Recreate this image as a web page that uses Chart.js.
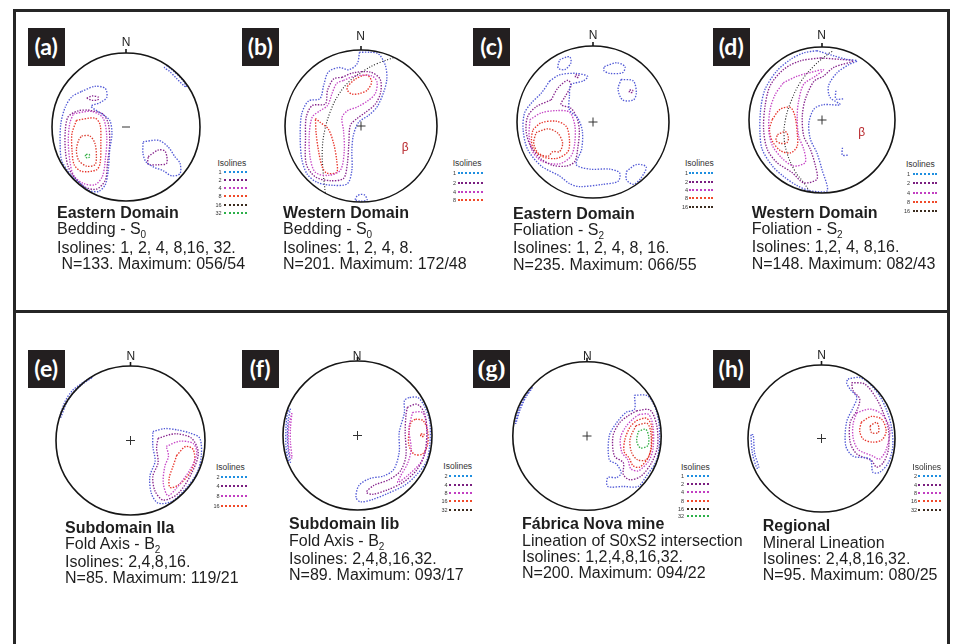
<!DOCTYPE html>
<html lang="en">
<head>
<meta charset="UTF-8">
<title>Stereonets</title>
<script src="https://cdn.jsdelivr.net/npm/chart.js"></script>
<style>
  html, body { margin: 0; padding: 0; background: #fff; }
  body { width: 957px; height: 644px; position: relative; overflow: hidden; font-family: "Liberation Sans", Arial, sans-serif; color: #222; }
  .rule { position: absolute; background: #262626; }
  .tag { position: absolute; width: 37px; height: 38px; background: #231f20; color: #fff; font: bold 23px Lato, "Open Sans", sans-serif; text-align: center; line-height: 37px; }
  .north { position: absolute; width: 20px; text-align: center; font-size: 12px; line-height: 14px; }
  .desc { position: absolute; font-size: 16px; line-height: 16.5px; white-space: pre; color: #1e1e1e; }
  .desc b { font-weight: bold; }
  .desc sub { font-size: 10px; vertical-align: baseline; position: relative; top: 4px; }
  .lgT { position: absolute; font-size: 8.5px; line-height: 10px; color: #333; }
  .lgN { position: absolute; width: 12px; text-align: right; font-size: 5.5px; line-height: 6px; color: #333; }
  .lgL { position: absolute; height: 0; border-top: 2px dotted; }
  .beta { position: absolute; font-size: 12px; color: #b8282d; }
</style>
</head>
<body>
<script>
// contour levels shown in each panel (legend)
const levelsA = [1, 2, 4, 8, 16, 32];
const levelsB = [1, 2, 4, 8];
const levelsC = [1, 2, 4, 8, 16];
const levelsD = [1, 2, 4, 8, 16];
const levelsE = [2, 4, 8, 16];
const levelsF = [2, 4, 8, 16, 32];
const levelsG = [1, 2, 4, 8, 16, 32];
const levelsH = [2, 4, 8, 16, 32];

// panel captions
const textA = ['Eastern Domain', 'Bedding - S', '0', 'Isolines: 1, 2, 4, 8,16, 32.', ' N=133. Maximum: 056/54'];
const textB = ['Western Domain', 'Bedding - S', '0', 'Isolines: 1, 2, 4, 8.', 'N=201. Maximum: 172/48'];
const textC = ['Eastern Domain', 'Foliation - S', '2', 'Isolines: 1, 2, 4, 8, 16.', 'N=235. Maximum: 066/55'];
const textD = ['Western Domain', 'Foliation - S', '2', 'Isolines: 1,2, 4, 8,16.', 'N=148. Maximum: 082/43'];
const textE = ['Subdomain IIa', 'Fold Axis - B', '2', 'Isolines: 2,4,8,16.', 'N=85. Maximum: 119/21'];
const textF = ['Subdomain Iib', 'Fold Axis - B', '2', 'Isolines: 2,4,8,16,32.', 'N=89. Maximum: 093/17'];
const textG = ['Fábrica Nova mine', 'Lineation of S0xS2 intersection', '', 'Isolines: 1,2,4,8,16,32.', 'N=200. Maximum: 094/22'];
const textH = ['Regional', 'Mineral Lineation', '', 'Isolines: 2,4,8,16,32.', 'N=95. Maximum: 080/25'];

// contour outlines, net coordinates (primitive circle radius = 100, north up)
// (a)
const aL1 = [[-60,48],[-42,55],[-28,52],[-26,40],[-35,33],[-47,28],[-33,18],[-22,9],[-19,-9],[-22,-31],[-24,-58],[-28,-78],[-37,-87],[-49,-86],[-62,-76],[-76,-63],[-87,-45],[-89,-22],[-88,5],[-82,27],[-73,41]];
const aR1 = [[23,-20],[44,-18],[57,-27],[66,-40],[73,-49],[73,-63],[62,-66],[50,-59],[37,-54],[27,-47],[23,-36]];
const aNE1 = [[55,83],[66,74],[76,64],[82,54],[78,56],[68,66],[58,76],[52,80]];
const aL2 = [[-51,23],[-32,18],[-24,5],[-22,-22],[-25,-49],[-28,-72],[-40,-84],[-56,-81],[-68,-70],[-78,-54],[-82,-31],[-82,-4],[-78,14],[-64,22]];
const aT2 = [[-53,39],[-45,42],[-37,40],[-38,37],[-46,36]];
const aR2 = [[30,-40],[44,-31],[53,-33],[55,-49],[44,-51],[30,-50]];
const aL4 = [[-71,18],[-46,21],[-31,12],[-26,-13],[-28,-45],[-32,-67],[-42,-78],[-58,-76],[-71,-65],[-76,-45],[-78,-18],[-76,5]];
const aL8 = [[-67,9],[-42,12],[-35,3],[-34,-22],[-35,-49],[-40,-58],[-60,-60],[-70,-51],[-73,-31],[-73,-9]];
const aL16 = [[-60,-12],[-49,-12],[-42,-22],[-40,-40],[-42,-51],[-53,-53],[-64,-45],[-67,-31],[-64,-18]];
const aL32 = [[-54,-37],[-50,-37],[-49,-40],[-52,-42],[-55,-40]];
// (b)
const bL1 = [[-2,97],[-5,82],[-16,74],[-29,77],[-43,71],[-49,54],[-54,36],[-69,33],[-78,16],[-80,-14],[-78,-43],[-71,-63],[-58,-74],[-38,-78],[-18,-76],[-12,-58],[-12,-32],[-10,-12],[-3,5],[10,14],[21,25],[30,45],[34,62],[32,80],[23,95],[12,97]];
const bS1 = [[-8,-97],[-5,-92],[0,-90],[5,-91],[8,-97],[0,-99]];
const bL2 = [[-25,64],[-10,70],[12,71],[25,62],[26,45],[19,29],[6,18],[-5,10],[-14,1],[-16,-23],[-18,-50],[-23,-69],[-40,-72],[-60,-67],[-72,-50],[-73,-14],[-72,12],[-64,27],[-47,29],[-44,47],[-36,62]];
const bL4 = [[-23,60],[-7,66],[14,66],[21,58],[19,43],[10,34],[-5,25],[-18,20],[-25,11],[-23,-6],[-22,-32],[-27,-58],[-43,-65],[-60,-61],[-67,-41],[-68,-10],[-64,12],[-54,20],[-44,27],[-38,43],[-32,56]];
const bU8 = [[-18,52],[-7,62],[8,67],[14,58],[8,47],[-1,43],[-12,42],[-18,47]];
const bD8 = [[-60,10],[-54,5],[-43,-4],[-36,-23],[-32,-45],[-32,-61],[-45,-62],[-51,-54],[-56,-32],[-59,-10]];
const bGC = [[-47,-88],[-50,-58],[-51,-32],[-48,-7],[-40,20],[-29,42],[-14,60],[4,73],[21,82],[43,90]];
// (c)
const cM1 = [[-57,54],[-44,62],[-22,64],[-7,60],[-13,54],[-29,49],[-31,34],[-31,16],[-20,5],[-14,-12],[-15,-36],[-22,-56],[-4,-62],[22,-62],[35,-67],[33,-78],[13,-82],[-18,-85],[-31,-81],[-44,-71],[-68,-58],[-86,-36],[-92,-10],[-90,12],[-81,25],[-68,38]];
const cA1 = [[-44,82],[-31,86],[-29,78],[-37,69],[-46,71]];
const cB1 = [[15,73],[31,78],[42,73],[39,65],[22,64],[14,68]];
const cC1 = [[37,56],[53,54],[57,38],[53,29],[39,29],[33,43]];
const cD1 = [[44,-65],[57,-56],[70,-59],[63,-74],[53,-82],[44,-76]];
const cM2 = [[-55,29],[-46,45],[-33,55],[-29,48],[-37,33],[-42,23],[-29,18],[-21,5],[-18,-12],[-20,-34],[-24,-52],[-35,-58],[-53,-57],[-69,-48],[-82,-32],[-88,-12],[-86,7],[-75,20]];
const cP2a = [[-23,62],[-19,62],[-19,59],[-23,59]];
const cP2b = [[48,42],[52,42],[52,39],[48,39]];
const cM4 = [[-83,3],[-68,12],[-48,15],[-31,13],[-24,-4],[-24,-28],[-29,-45],[-44,-55],[-66,-52],[-79,-40],[-84,-19]];
const cM8 = [[-79,-10],[-68,-1],[-48,1],[-35,-6],[-31,-23],[-33,-39],[-48,-48],[-68,-45],[-79,-34],[-81,-21]];
const cM16 = [[-75,-14],[-59,-9],[-46,-15],[-40,-28],[-44,-39],[-53,-39],[-59,-45],[-72,-41],[-78,-28]];
// (d)
const dM1 = [[-7,95],[16,88],[34,83],[48,81],[37,76],[21,65],[9,47],[11,31],[25,21],[2,21],[-11,15],[-18,-4],[-16,-26],[-7,-45],[0,-68],[7,-97],[-16,-97],[-34,-90],[-53,-77],[-68,-63],[-82,-40],[-85,-17],[-84,15],[-78,42],[-62,67],[-43,83],[-25,92]];
const dS1a = [[19,40],[19,29],[30,29]];
const dS1b = [[28,-38],[28,-48],[37,-48]];
const dM2 = [[-2,85],[25,83],[43,81],[16,72],[2,60],[-11,53],[-23,28],[-27,5],[-25,-22],[-16,-40],[-9,-63],[-7,-81],[-25,-86],[-41,-72],[-62,-58],[-75,-40],[-80,-13],[-78,19],[-71,47],[-53,69],[-30,81]];
const dM4 = [[-53,51],[-34,60],[-16,65],[2,69],[-9,60],[-25,49],[-32,26],[-34,5],[-32,-22],[-25,-40],[-23,-58],[-39,-63],[-55,-52],[-68,-35],[-73,-13],[-71,15],[-64,35]];
const dM8 = [[-68,1],[-57,15],[-43,17],[-37,5],[-34,-17],[-34,-36],[-43,-45],[-57,-42],[-68,-29],[-72,-13]];
const dM16 = [[-61,-20],[-50,-16],[-46,-24],[-48,-31],[-57,-32],[-63,-28]];
const dGC = [[14,94],[9,91],[-11,74],[-30,51],[-43,24],[-50,1],[-52,-22],[-48,-45],[-37,-70],[-25,-86],[-16,-99]];
// (e)
const eR2 = [[30,12],[46,16],[64,14],[80,10],[93,3],[95,-21],[89,-44],[73,-66],[55,-82],[37,-84],[28,-71],[26,-48],[33,-28],[30,-8]];
const eNW2 = [[-52,84],[-64,76],[-76,65],[-86,50],[-94,30],[-95,31],[-88,52],[-78,67],[-65,77],[-52,85]];
const eR4 = [[37,3],[60,9],[82,3],[91,-17],[82,-44],[64,-71],[44,-80],[33,-68],[30,-48],[37,-30],[35,-10]];
const eR8 = [[48,-8],[66,-1],[84,-4],[89,-17],[80,-39],[60,-66],[50,-74],[44,-57],[46,-35],[51,-21]];
const eR16 = [[62,-20],[74,-8],[84,-12],[86,-28],[78,-46],[64,-60],[53,-63],[52,-50],[57,-35]];
// (f)
const fR2 = [[69,51],[63,47],[63,31],[56,4],[56,-22],[49,-45],[36,-54],[16,-58],[2,-67],[-2,-83],[4,-89],[20,-86],[40,-78],[63,-67],[78,-54],[92,-36],[97,-13],[97,18],[90,39],[81,51]];
const fW2 = [[-90,36],[-93,20],[-94,0],[-93,-20],[-90,-36],[-93,-32],[-96,-15],[-96,10],[-94,30]];
const fR4 = [[67,38],[80,42],[90,30],[93,4],[90,-25],[79,-47],[61,-63],[40,-73],[20,-79],[12,-76],[22,-67],[43,-59],[58,-47],[65,-27],[64,4],[65,27]];
const fW4 = [[-88,30],[-90,10],[-90,-10],[-88,-30],[-91,-25],[-93,-5],[-92,15]];
const fR8 = [[74,31],[87,31],[93,13],[92,-18],[85,-36],[67,-54],[54,-63],[58,-54],[67,-38],[72,-18],[69,9]];
const fR16 = [[78,22],[88,20],[94,7],[94,-13],[87,-25],[76,-25],[69,-13],[69,4],[72,18]];
const fO16 = [[85,2],[89,2],[89,-1],[85,-1]];
// (g)
const gR1 = [[64,55],[82,54],[94,32],[98,0],[94,-32],[80,-54],[69,-68],[49,-68],[28,-68],[28,-56],[40,-56],[46,-50],[40,-38],[30,-32],[30,0],[40,18],[53,32],[64,36]];
const gW1 = [[-75,65],[-84,52],[-92,35],[-97,18],[-96,17],[-90,36],[-82,53],[-73,66]];
const gR2 = [[67,34],[85,35],[94,14],[95,-14],[87,-36],[73,-54],[58,-59],[49,-52],[49,-36],[37,-27],[35,0],[44,18],[55,27]];
const gR4 = [[70,29],[83,29],[89,13],[89,-17],[83,-34],[69,-47],[59,-44],[55,-32],[47,-22],[45,-3],[52,12],[62,23]];
const gR8 = [[67,21],[80,24],[87,14],[87,-14],[82,-30],[71,-42],[62,-40],[57,-30],[50,-21],[51,-5],[58,12]];
const gR16 = [[66,14],[81,17],[86,5],[86,-18],[80,-32],[68,-32],[60,-22],[58,-4]];
const gR32 = [[69,6],[79,9],[83,0],[82,-13],[72,-16],[67,-7]];
// (h)
const hR2 = [[36,81],[52,83],[66,74],[79,58],[88,40],[95,17],[97,-10],[91,-33],[79,-46],[70,-46],[66,-28],[43,-24],[33,-10],[34,22],[43,42],[48,56],[39,67],[34,76]];
const hW2 = [[-96,5],[-94,-20],[-88,-40],[-85,-40],[-91,-20],[-93,5]];
const hR4 = [[41,76],[59,74],[75,54],[84,35],[91,13],[91,-15],[84,-33],[75,-39],[68,-30],[48,-21],[39,-5],[39,22],[48,38],[52,54],[43,65]];
const hR8 = [[48,35],[66,40],[82,33],[93,13],[88,-15],[79,-28],[70,-24],[50,-15],[43,1],[43,20]];
const hR16 = [[54,22],[68,30],[82,26],[88,10],[82,-2],[70,-5],[57,-1],[52,10]];
const hR32 = [[66,17],[75,22],[78,15],[77,8],[68,8]];

// beta poles (net coordinates)
const betaB = [59, -30];
const betaD = [55, -17];

// colours by contour rank (plot) and legend swatches
const lineColors = ['#5159d6', '#86238c', '#c646c6', '#e8342a', '#dc3a2c', '#34b046'];
const legendColors = ['#1f8fe0', '#7a1f80', '#c23fc2', '#f04a2a', '#3b2b1e', '#2cb04a'];

// page layout for each panel
const panels = [
  { tag: '(a)', cx: 126, cy: 127, r: 74, ny: 41.7, box: [27.7, 28.3], center: 'line',
    levels: levelsA, text: textA, tx: 57, ty: 213, lh: 16.5,
    lg: { x: 217.5, y: 163, rows: [171.7, 179.6, 188, 196.3, 204.7, 212.7], nx: 221.5, l1: 224, l2: 247 },
    rings: [[aL1,0],[aR1,0],[aNE1,0],[aL2,1],[aT2,1],[aR2,1],[aL4,2],[aL8,3],[aL16,4],[aL32,5]] },
  { tag: '(b)', cx: 360.5, cy: 125.5, r: 76, ny: 36, box: [241.7, 28], center: 'cross',
    levels: levelsB, text: textB, tx: 283, ty: 213, lh: 16.5,
    lg: { x: 452.7, y: 163, rows: [173.3, 182.5, 191.5, 200], nx: 456, l1: 457.5, l2: 483 },
    rings: [[bL1,0],[bS1,0],[bL2,1],[bL4,2],[bU8,3],[bD8,3]], gc: bGC, beta: betaB },
  { tag: '(c)', cx: 593, cy: 121.7, r: 76, ny: 35, box: [473, 28], center: 'cross',
    levels: levelsC, text: textC, tx: 513, ty: 214, lh: 16.3,
    lg: { x: 685, y: 163, rows: [173.3, 181.7, 190, 198.3, 206.7], nx: 688, l1: 689, l2: 713 },
    rings: [[cM1,0],[cA1,0],[cB1,0],[cC1,0],[cD1,0],[cM2,1],[cP2a,1],[cP2b,1],[cM4,2],[cM8,3],[cM16,4]] },
  { tag: '(d)', cx: 821.6, cy: 120.3, r: 73, ny: 35, box: [712.7, 28], center: 'cross',
    levels: levelsD, text: textD, tx: 751.7, ty: 213, lh: 16.3,
    lg: { x: 906, y: 164, rows: [174.3, 183.3, 192.7, 201.7, 211], nx: 910, l1: 913.3, l2: 937 },
    rings: [[dM1,0],[dM2,1],[dM4,2],[dM8,3],[dM16,4]], marks: [[dS1a,0],[dS1b,0]], gc: dGC, beta: betaD },
  { tag: '(e)', cx: 130.8, cy: 440, r: 74.5, ny: 356, box: [27.7, 349.7], center: 'cross',
    levels: levelsE, text: textE, tx: 65, ty: 528, lh: 16.1,
    lg: { x: 216, y: 467, rows: [477.3, 486.3, 495.7, 505.7], nx: 219.5, l1: 221, l2: 247 },
    rings: [[eR2,0],[eNW2,0],[eR4,1],[eR8,2],[eR16,3]] },
  { tag: '(f)', cx: 357, cy: 435.8, r: 74.5, ny: 355.7, box: [241.7, 349.7], center: 'cross',
    levels: levelsF, text: textF, tx: 289, ty: 524.5, lh: 16.2,
    lg: { x: 443.3, y: 466, rows: [476.3, 485, 493, 501.3, 509.7], nx: 447.5, l1: 449, l2: 472 },
    rings: [[fR2,0],[fW2,0],[fR4,1],[fW4,2],[fR8,2],[fR16,3],[fO16,3]] },
  { tag: '(g)', cx: 587.3, cy: 436, r: 74.2, ny: 355.7, box: [473, 349.7], center: 'cross', serif: true,
    levels: levelsG, text: textG, tx: 522, ty: 524.5, lh: 16.2,
    lg: { x: 681, y: 467, rows: [476.3, 484.2, 492.3, 500.6, 508.7, 516.4], nx: 684, l1: 686.7, l2: 709.3 },
    rings: [[gR1,0],[gW1,0],[gR2,1],[gR4,2],[gR8,3],[gR16,4],[gR32,5]] },
  { tag: '(h)', cx: 821.6, cy: 438.5, r: 73.5, ny: 354.7, box: [712.7, 349.7], center: 'cross',
    levels: levelsH, text: textH, tx: 762.7, ty: 526.5, lh: 16.3,
    lg: { x: 912.3, y: 467, rows: [476.3, 484.7, 493, 501.3, 509.7], nx: 917, l1: 918.3, l2: 940.7 },
    rings: [[hR2,0],[hW2,0],[hR4,1],[hR8,2],[hR16,3],[hR32,4]] }
];

const PAD = 8;

function el(cls, x, y, html) {
  const d = document.createElement('div');
  d.className = cls;
  d.style.left = x + 'px';
  d.style.top = y + 'px';
  if (html !== undefined) d.innerHTML = html;
  document.body.appendChild(d);
  return d;
}

// frame rules
function rule(x, y, w, h) {
  const d = el('rule', x, y);
  d.style.width = w + 'px';
  d.style.height = h + 'px';
}
rule(13, 9, 936.5, 2.5);
rule(13, 310, 936.5, 2.5);
rule(13, 9, 2.5, 640);
rule(947, 9, 2.5, 640);

// primitive circle + north tick
const netFrame = {
  id: 'netFrame',
  afterDatasetsDraw(chart) {
    const { ctx, scales: { x, y } } = chart;
    const cx = x.getPixelForValue(0), cy = y.getPixelForValue(0);
    const rr = x.getPixelForValue(100) - cx;
    ctx.save();
    ctx.strokeStyle = '#161616';
    ctx.lineWidth = 1.6;
    ctx.beginPath();
    ctx.arc(cx, cy, rr, 0, Math.PI * 2);
    ctx.stroke();
    ctx.beginPath();
    ctx.moveTo(cx, cy - rr);
    ctx.lineTo(cx, cy - rr - 4);
    ctx.stroke();
    ctx.restore();
  }
};

function pts(arr, closed) {
  const d = arr.map(p => ({ x: p[0], y: p[1] }));
  if (closed) d.push({ x: arr[0][0], y: arr[0][1] });
  return d;
}

function ringSet(arr, rank, closed) {
  return {
    data: pts(arr, closed),
    showLine: true,
    borderColor: lineColors[rank],
    borderWidth: 1.35,
    borderDash: [1.4, 1.4],
    pointRadius: 0,
    tension: 0.3,
    fill: false
  };
}

panels.forEach(p => {
  // stereonet canvas
  const size = Math.round(2 * p.r + 2 * PAD);
  const pad = (size - 2 * p.r) / 2;
  const cv = document.createElement('canvas');
  cv.width = size; cv.height = size;
  cv.style.position = 'absolute';
  cv.style.left = (p.cx - size / 2) + 'px';
  cv.style.top = (p.cy - size / 2) + 'px';
  cv.style.width = size + 'px';
  cv.style.height = size + 'px';
  document.body.appendChild(cv);

  const datasets = p.rings.map(([arr, rank]) => ringSet(arr, rank, true));
  (p.marks || []).forEach(([arr, rank]) => datasets.push(ringSet(arr, rank, false)));
  if (p.gc) {
    datasets.push({
      data: pts(p.gc, false), showLine: true, borderColor: '#222', borderWidth: 1.15,
      borderDash: [1, 1.8], pointRadius: 0, tension: 0.4, fill: false
    });
  }
  datasets.push({
    data: [{ x: 0, y: 0 }], pointStyle: p.center, pointRadius: p.center === 'line' ? 4 : 4.5,
    borderColor: '#333', borderWidth: 1, showLine: false
  });

  new Chart(cv, {
    type: 'scatter',
    data: { datasets },
    options: {
      responsive: false,
      animation: false,
      devicePixelRatio: 1,
      events: [],
      layout: { padding: pad },
      plugins: { legend: { display: false }, tooltip: { enabled: false } },
      scales: {
        x: { type: 'linear', min: -100, max: 100, display: false },
        y: { type: 'linear', min: -100, max: 100, display: false }
      }
    },
    plugins: [netFrame]
  });

  // panel tag
  const t = el('tag', p.box[0], p.box[1], p.tag);
  if (p.serif) { t.style.fontFamily = '"Liberation Serif", "DejaVu Serif", serif'; t.style.fontSize = '24px'; }

  // north label
  el('north', p.cx - 10, p.ny - 7, 'N');

  // beta pole label
  if (p.beta) {
    el('beta', p.cx + p.beta[0] / 100 * p.r - 3.5, p.cy - p.beta[1] / 100 * p.r - 8, '\u03b2');
  }

  // legend
  el('lgT', p.lg.x, p.lg.y - 5, 'Isolines');
  p.levels.forEach((lv, i) => {
    el('lgN', p.lg.nx - 12, p.lg.rows[i] - 3, String(lv));
    const l = el('lgL', p.lg.l1, p.lg.rows[i] - 1);
    l.style.width = (p.lg.l2 - p.lg.l1) + 'px';
    l.style.borderColor = legendColors[i];
  });

  // caption
  const [title, sub, subIdx, iso, nline] = p.text;
  const subHtml = subIdx ? sub + '<sub>' + subIdx + '</sub>' : sub;
  const d = el('desc', p.tx, p.ty - p.lh / 2,
    '<b>' + title + '</b>\n' + subHtml + '\n' + iso + '\n' + nline);
  d.style.lineHeight = p.lh + 'px';
});
</script>
</body>
</html>
